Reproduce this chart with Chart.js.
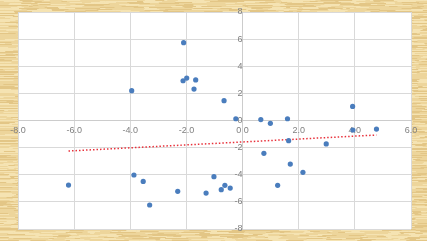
<!DOCTYPE html>
<html>
<head>
<meta charset="utf-8">
<script src="https://cdn.jsdelivr.net/npm/chart.js@4/dist/chart.umd.min.js"></script>
<style>
  html, body { margin: 0; padding: 0; background: #edd59b; }
  #wrap { width: 427px; height: 241px; position: relative; }
</style>
</head>
<body>
<div id="wrap"><canvas id="chart" width="427" height="241"></canvas></div>
<script>
// scatter points
const xValues = [-6.2, -3.95, -3.87, -3.54, -3.31, -2.31, -2.1, -2.12, -1.99, -1.67,
                 -1.73, -1.3, -1.02, -0.76, -0.63, -0.44, -0.66, -0.24, 0.65, 0.99,
                 0.76, 1.6, 1.64, 1.7, 1.25, 2.15, 2.98, 3.92, 3.93, 4.77];
const yValues = [-4.76, 2.2, -4.02, -4.49, -6.23, -5.22, 5.74, 2.93, 3.13, 2.99,
                 2.32, -5.35, -4.14, -5.1, -4.78, -4.98, 1.46, 0.13, 0.07, -0.21,
                 -2.42, 0.13, -1.49, -3.21, -4.78, -3.82, -1.73, 1.04, -0.7, -0.63];

// linear trend line end points
const trendX = [-6.2, 4.77];
const trendY = [-2.25, -1.07];

const xTicks = [-8, -6, -4, -2, 0, 2, 4, 6];
const yTicks = [-8, -6, -4, -2, 0, 2, 4, 6, 8];

function hash(n) {
    const s = Math.sin(n * 12.9898) * 43758.5453;
    return s - Math.floor(s);
}

// parchment look around the plot area
const parchment = {
    id: 'parchment',
    beforeDraw(chart) {
        const ctx = chart.ctx;
        const w = chart.width, h = chart.height;
        ctx.save();
        ctx.fillStyle = '#edd59b';
        ctx.fillRect(0, 0, w, h);
        let k = 1;
        for (let y = 0; y < h; y++) {
            let x = 0;
            while (x < w) {
                const len = 3 + hash(k++) * 18;
                const r = hash(k++);
                if (r < 0.35) ctx.fillStyle = 'rgba(252,238,196,0.55)';
                else if (r < 0.6) ctx.fillStyle = 'rgba(205,165,85,0.3)';
                else ctx.fillStyle = 'rgba(0,0,0,0)';
                ctx.fillRect(x, y, len, 1);
                x += len;
            }
        }
        const a = chart.chartArea;
        ctx.fillStyle = '#ffffff';
        ctx.fillRect(a.left, a.top, a.right - a.left, a.bottom - a.top);
        ctx.restore();
    }
};

const points = xValues.map((x, i) => ({x: x, y: yValues[i]}));
const trend = trendX.map((x, i) => ({x: x, y: trendY[i]}));

new Chart(document.getElementById('chart'), {
    type: 'scatter',
    data: {
        datasets: [{
            data: points,
            backgroundColor: '#4a7dbd',
            borderColor: '#4a7dbd',
            pointRadius: 2.6,
            pointHoverRadius: 2.6,
            borderWidth: 0,
            order: 1
        }, {
            type: 'line',
            data: trend,
            borderColor: '#e8303a',
            borderWidth: 1.5,
            borderDash: [1.5, 2],
            pointRadius: 0,
            fill: false,
            order: 2
        }]
    },
    options: {
        responsive: false,
        animation: false,
        layout: { padding: {left: 18, top: 12, right: 16, bottom: 12} },
        plugins: {
            legend: { display: false },
            tooltip: { enabled: false }
        },
        scales: {
            x: {
                type: 'linear',
                position: {y: 0},
                min: -8,
                max: 6,
                afterBuildTicks: (scale) => { scale.ticks = xTicks.map(v => ({value: v})); },
                afterFit: (scale) => { scale.height = 0; scale.paddingLeft = 0; scale.paddingRight = 0; },
                grid: { color: '#d9d9d9', drawTicks: false },
                border: { color: '#cccccc' },
                ticks: {
                    color: '#808080',
                    font: {family: 'Liberation Sans', size: 9},
                    padding: 5,
                    maxRotation: 0,
                    callback: (v) => v.toFixed(1)
                }
            },
            y: {
                type: 'linear',
                position: {x: 0},
                min: -8,
                max: 8,
                afterBuildTicks: (scale) => { scale.ticks = yTicks.map(v => ({value: v})); },
                afterFit: (scale) => { scale.width = 0; scale.paddingTop = 0; scale.paddingBottom = 0; },
                grid: { color: '#d9d9d9', drawTicks: false },
                border: { color: '#cccccc' },
                ticks: {
                    color: '#808080',
                    font: {family: 'Liberation Sans', size: 9},
                    padding: 7,
                    callback: (v) => String(v)
                }
            }
        }
    },
    plugins: [parchment]
});
</script>
</body>
</html>
